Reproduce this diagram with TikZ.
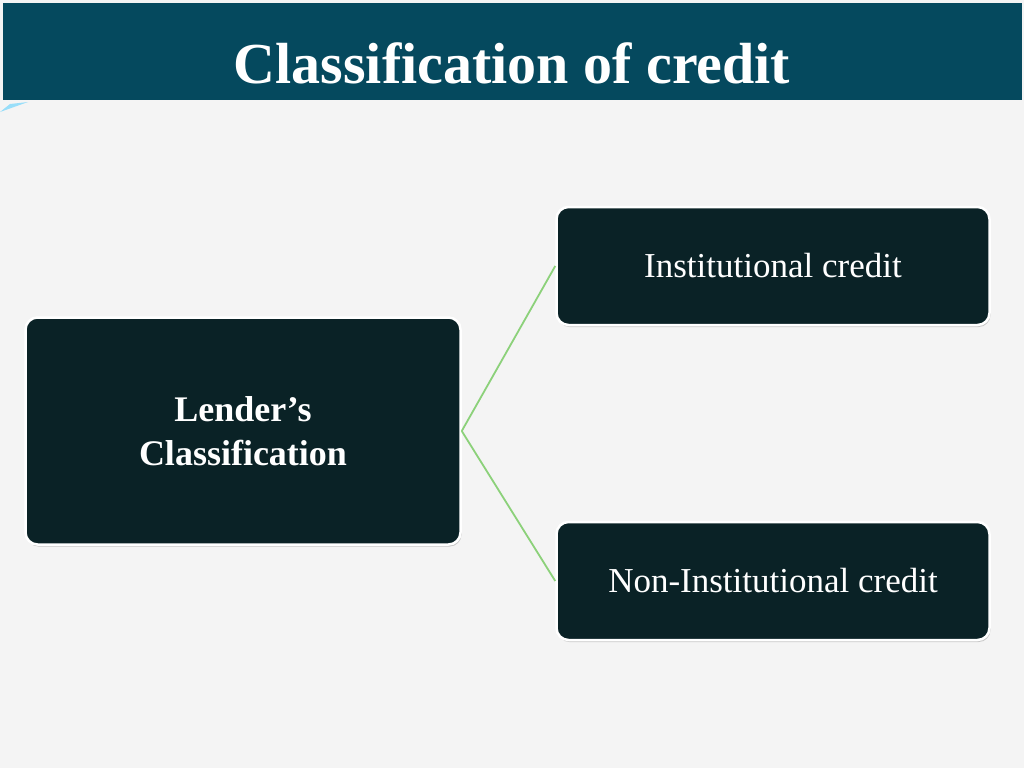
\documentclass[tikz,border=0pt]{standalone}
\usepackage{fontspec}
\setmainfont{Liberation Serif}
\usetikzlibrary{shadows}
\definecolor{bar}{HTML}{05495E}
\definecolor{boxc}{HTML}{0A2226}
\definecolor{bg}{HTML}{F4F4F4}
\definecolor{ln}{HTML}{8CD17A}
\begin{document}
\begin{tikzpicture}[x=1pt,y=-1pt,
  box/.style={draw=white,line width=2.5pt,fill=boxc,rounded corners=12pt,text=white,align=center,
    drop shadow={shadow xshift=1pt,shadow yshift=-2pt,fill=black!40}},
  conn/.style={draw=ln,line width=1.8pt}]
\useasboundingbox (0,0) rectangle (1024,768);
\fill[bg] (0,0) rectangle (1024,768);
\fill[bar] (3,3) rectangle (1022,100);
\fill[cyan!40] (0,112) -- (28,102) -- (10,104) -- cycle;
\node[text=white,font=\bfseries\fontsize{58}{64}\selectfont] (title) at (512,63) {Classification of credit};
\node[box,minimum width=435pt,minimum height=227pt,font=\bfseries\fontsize{36}{44}\selectfont] (lend) at (243,431) {Lender’s\\Classification};
\node[box,minimum width=433pt,minimum height=118pt,font=\fontsize{35}{40}\selectfont] (inst) at (773,266) {Institutional credit};
\node[box,minimum width=433pt,minimum height=118pt,font=\fontsize{35}{40}\selectfont] (non) at (773,581) {Non-Institutional credit};
\draw[conn] (lend.east) -- (inst.west);
\draw[conn] (lend.east) -- (non.west);
\end{tikzpicture}
\end{document}
